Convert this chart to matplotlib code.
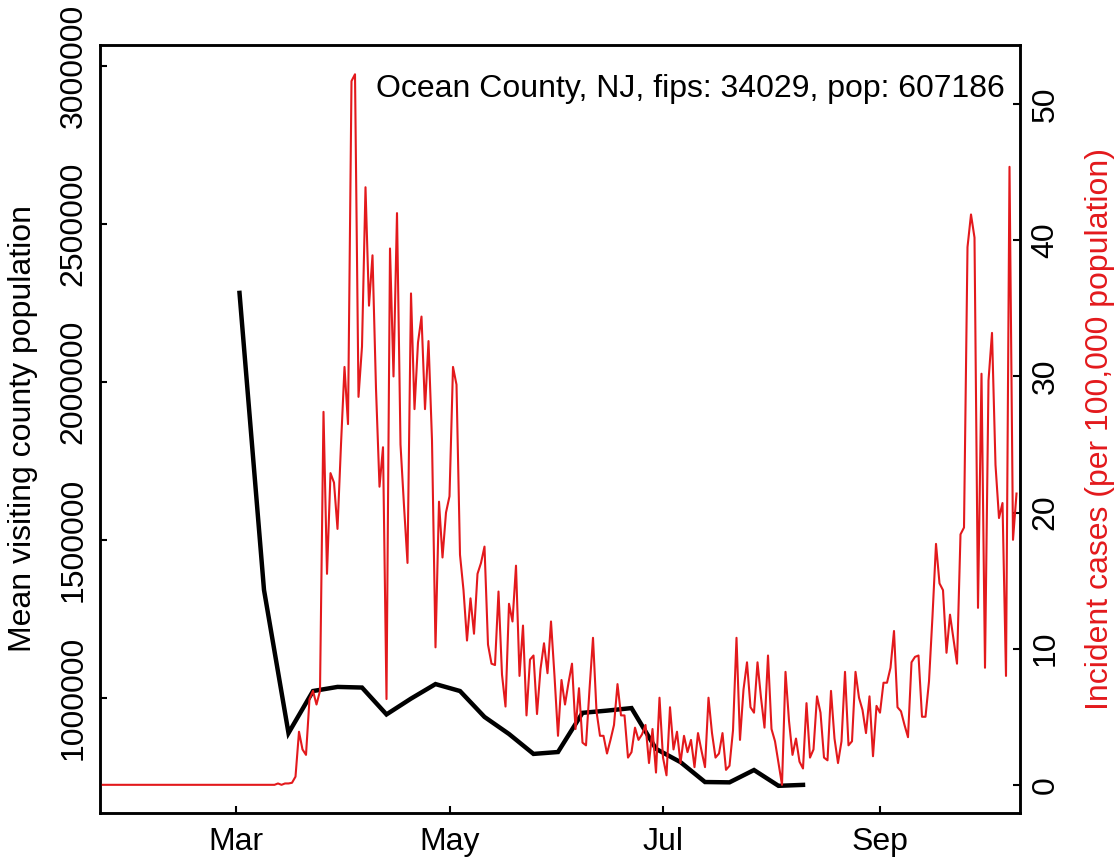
import matplotlib
matplotlib.use("Agg")
import matplotlib.pyplot as plt
import matplotlib.dates as mdates
import numpy as np
import pandas as pd

plt.rcParams['font.family'] = ['Liberation Sans', 'DejaVu Sans']

# weekly mean visiting population (left axis)
visit_dates = pd.date_range('2020-03-02', periods=24, freq='7D')
visit_pop = [2282000, 1342000, 889000, 1022000, 1035000, 1033000, 948000, 998000,
             1044000, 1022000, 940000, 886000, 823000, 829000, 953000, 960000,
             968000, 839000, 797000, 734000, 733000, 772000, 722000, 725000]

# daily incident cases per 100,000 (right axis), 2020-01-22 .. 2020-10-10
case_dates = pd.date_range('2020-01-22', '2020-10-10', freq='D')
cases_before = [0, 0, 0, 0, 0, 0, 0, 0, 0, 0, 0, 0, 0, 0, 0, 0,
                0, 0, 0, 0, 0, 0, 0, 0, 0, 0, 0, 0, 0, 0, 0, 0,
                0, 0, 0, 0, 0, 0, 0, 0, 0, 0, 0, 0, 0, 0, 0, 0]
cases_from_mar10 = [
    0, 0, 0, 0.1, 0, 0.1, 0.1, 0.15,
    0.6, 3.9, 2.6, 2.2, 6.3, 6.9, 5.9, 6.9,
    27.4, 15.5, 22.9, 22.2, 18.8, 25.0, 30.7, 26.5,
    51.7, 52.2, 28.5, 32.2, 43.9, 35.2, 38.9, 29.1,
    21.9, 24.8, 6.3, 39.4, 30.0, 42.0, 25.0, 20.5,
    16.3, 36.1, 27.6, 32.5, 34.4, 27.6, 32.6, 25.3,
    10.1, 20.8, 16.7, 20.0, 21.2, 30.7, 29.4, 16.9,
    14.3, 10.6, 13.7, 11.1, 15.5, 16.3, 17.5, 10.3,
    8.9, 8.8, 14.2, 8.1, 5.75, 13.3, 12.0, 16.1,
    8.0, 11.7, 5.1, 9.2, 9.5, 5.2, 8.5, 10.4,
    8.2, 12.0, 8.0, 3.6, 7.7, 5.9, 7.5, 8.9,
    4.1, 7.1, 3.1, 2.9, 7.0, 10.8, 5.4, 3.6,
    3.6, 2.3, 3.3, 4.4, 7.4, 5.1, 5.1, 2.0,
    2.4, 4.2, 3.3, 3.7, 4.4, 1.6, 4.1, 0.9,
    6.4, 2.0, 0.7, 5.7, 2.6, 3.9, 1.6, 3.6,
    2.4, 3.3, 1.3, 3.8, 2.5, 1.3, 6.4, 3.8,
    2.0, 2.3, 3.8, 1.1, 1.4, 4.0, 10.8, 3.3,
    7.0, 9.0, 5.7, 5.3, 9.0, 6.4, 4.2, 9.5,
    4.1, 3.2, 1.6, 0.0, 8.3, 4.7, 2.2, 3.4,
    1.7, 1.2, 6.0, 2.0, 2.6, 6.5, 5.3, 2.0,
    1.8, 6.9, 3.4, 1.6, 3.2, 8.3, 2.9, 3.2,
    8.3, 6.4, 5.5, 3.8, 6.5, 2.1, 5.8, 5.3,
    7.5, 7.5, 8.6, 11.3, 5.7, 5.4, 4.4, 3.5,
    9.0, 9.4, 9.5, 5.0, 5.0, 7.6, 12.4, 17.7,
    14.8, 14.3, 9.7, 12.5, 10.7, 8.9, 18.4, 18.9,
    39.5, 41.9, 40.2, 13.0, 30.2, 8.6, 29.7, 33.2,
    23.5, 19.6, 20.7, 8.0, 45.4, 18.0, 21.4]
cases = cases_before + cases_from_mar10

title_text = "Ocean County, NJ, fips: 34029, pop: 607186"
month_ticks = pd.to_datetime(['2020-03-01', '2020-05-01', '2020-07-01', '2020-09-01'])
left_ticks = [1000000, 1500000, 2000000, 2500000, 3000000]
right_ticks = [0, 10, 20, 30, 40, 50]

red = '#E3191C'
fs = 23

fig = plt.figure(figsize=(11.19, 8.58), dpi=100)
ax = fig.add_axes([99.5 / 1119, 45 / 858, 920.5 / 1119, 768 / 858])
ax2 = ax.twinx()

ax.plot(visit_dates, visit_pop, color='black', lw=3.2, solid_joinstyle='miter')
ax2.plot(case_dates, cases, color=red, lw=1.5)

ax.set_xlim(pd.Timestamp('2020-01-22'), pd.Timestamp('2020-10-11'))
ax.set_ylim(636000, 3066500)
ax2.set_ylim(-2.07, 54.35)

ax.set_xticks(month_ticks)
ax.xaxis.set_major_formatter(mdates.DateFormatter('%b'))
ax.set_yticks(left_ticks)
ax.set_yticklabels([str(v) for v in left_ticks])
ax2.set_yticks(right_ticks)

for a in (ax, ax2):
    for s in a.spines.values():
        s.set_linewidth(1.8)
ax.tick_params(axis='x', direction='in', length=5, width=1.5, pad=10, labelsize=fs)
ax.tick_params(axis='y', direction='in', length=5, width=1.5, pad=8, labelsize=fs, labelrotation=90)
ax2.tick_params(axis='y', direction='in', length=5, width=1.5, pad=7.5, labelsize=fs, labelrotation=90)
for lbl in ax.get_yticklabels() + ax2.get_yticklabels():
    lbl.set_va('center')

ax.set_ylabel("Mean visiting county population", fontsize=fs, va='center')
ax.yaxis.set_label_coords(-0.0831, 0.5)
ax2.set_ylabel("Incident cases (per 100,000 population)", fontsize=fs, color=red,
               va='center', rotation=90)
ax2.yaxis.set_label_coords(1.0869, 0.5)

ax.text(0.9837, 0.932, title_text, transform=ax.transAxes, ha='right',
        va='baseline', fontsize=fs)

fig.savefig('out.png', dpi=100)
